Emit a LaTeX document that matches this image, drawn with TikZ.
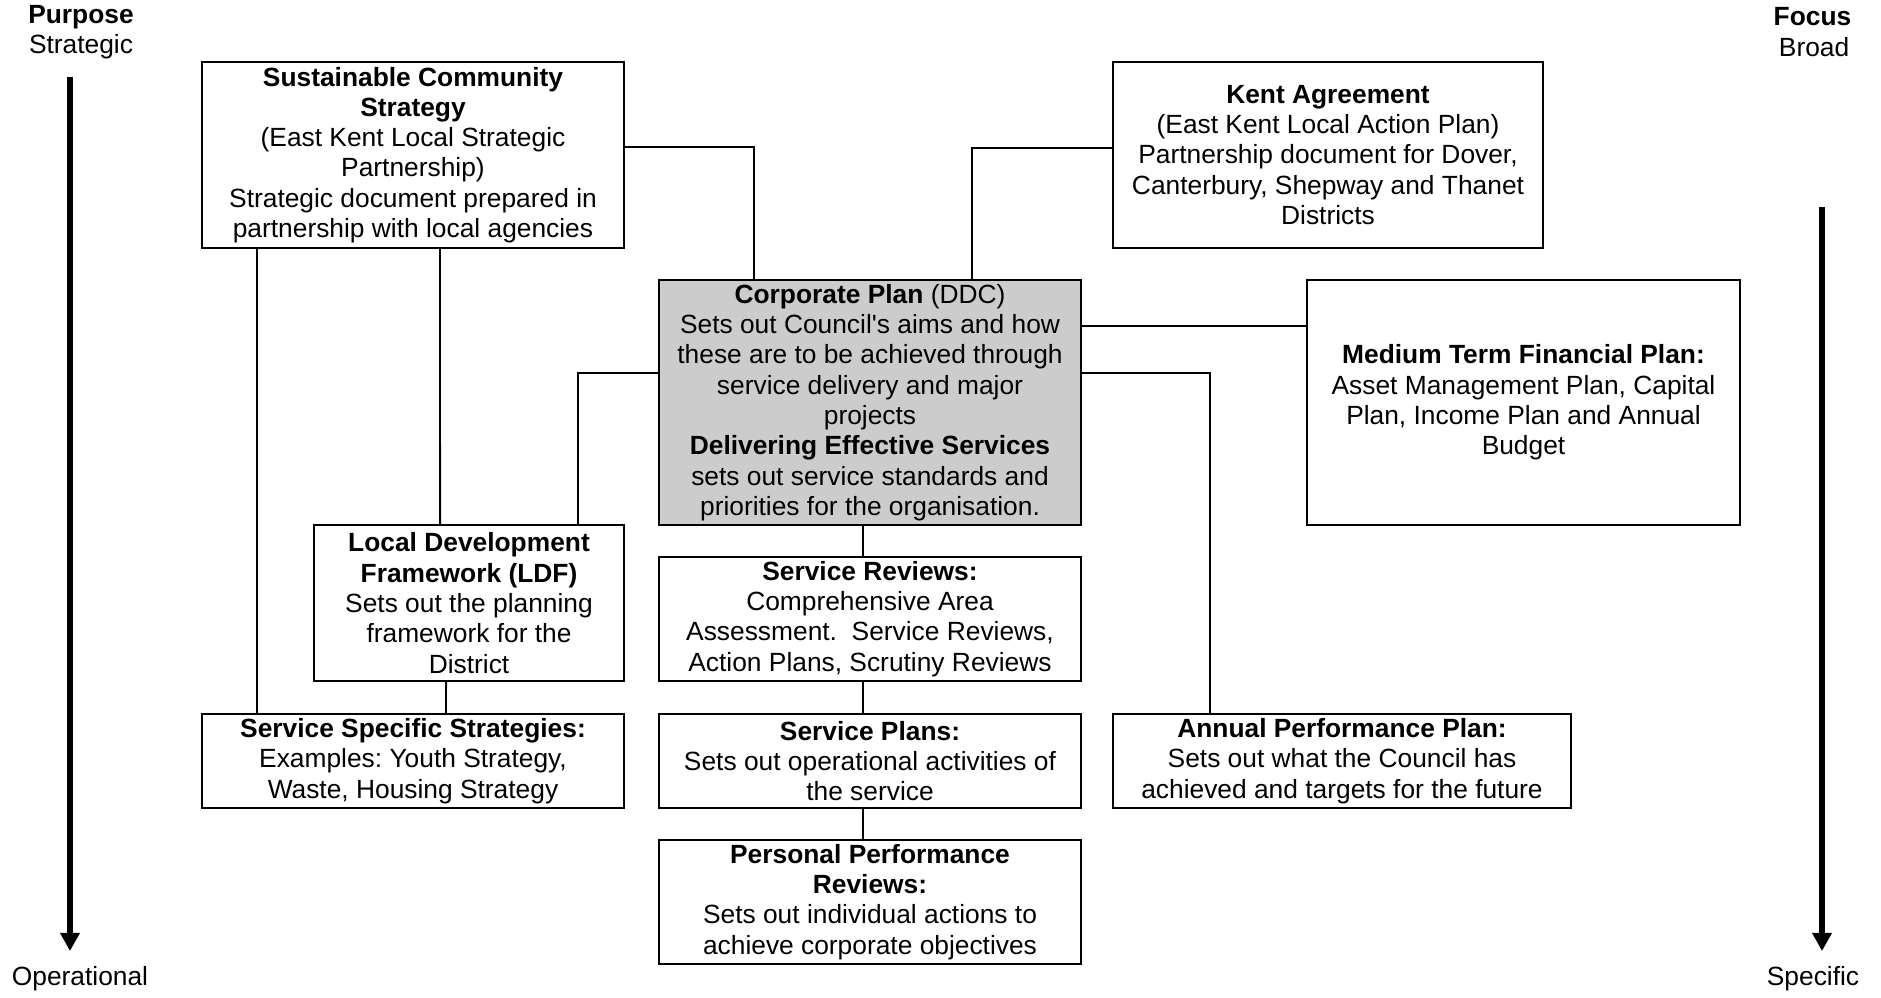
\documentclass[tikz,border=0pt]{standalone}
\usepackage{fontspec}
\setmainfont{Liberation Sans}[Ligatures=TeXOff]
\usetikzlibrary{arrows.meta}
\frenchspacing
\begin{document}
\begin{tikzpicture}[x=0.016cm,y=-0.016cm,line join=miter,
	font=\fontsize{12}{13.8}\selectfont,
	box/.style={draw,line width=0.9pt,inner sep=0pt,align=center,minimum width=6.752cm},
	greybox/.style={box,fill=black!20},
	link/.style={line width=0.9pt},
	axis/.style={line width=2.4pt,-{Triangle[length=0.29cm,width=0.3cm]}}]
		\useasboundingbox (0,0) rectangle (1881,997);
		% headings at the sides
		\node[font=\fontsize{12}{13.8}\selectfont\bfseries] (purp) at (81,17) {Purpose};
		\node (strat) at (81,47) {Strategic};
		\node (oper) at (80,979) {Operational};
		\node[anchor=east,font=\fontsize{12}{13.8}\selectfont\bfseries] (focus) at (1859,17) {Focus};
		\node[anchor=east] (broad) at (1857,47) {Broad};
		\node (spec) at (1813,979) {Specific};
		\coordinate (ltop) at (70,77);
		\coordinate (lbot) at (70,951);
		\coordinate (rtop) at (1822,207);
		\coordinate (rbot) at (1822,951);
		\draw[axis] (ltop)--(lbot);
		\draw[axis] (rtop)--(rbot);
		% boxes
		\node[box,minimum height=2.976cm] (scs) at (413,155) {\textbf{Sustainable Community}\\\textbf{Strategy}\\(East Kent Local Strategic\\Partnership)\\Strategic document prepared in\\partnership with local agencies};
		\node[box,minimum width=6.88cm,minimum height=2.976cm] (kent) at (1328,155) {\textbf{Kent Agreement}\\(East Kent Local Action Plan)\\Partnership document for Dover,\\Canterbury, Shepway and Thanet\\Districts};
		\node[greybox,minimum height=3.92cm] (corp) at (870,402.5) {\textbf{Corporate Plan} (DDC)\\Sets out Council's aims and how\\these are to be achieved through\\service delivery and major\\projects\\\textbf{Delivering Effective Services}\\sets out service standards and\\priorities for the organisation.};
		\node[box,minimum width=6.928cm,minimum height=3.92cm] (mtfp) at (1523.5,402.5) {\textbf{Medium Term Financial Plan:}\\Asset Management Plan, Capital\\Plan, Income Plan and Annual\\Budget};
		\node[box,minimum width=4.96cm,minimum height=2.496cm] (ldf) at (469,603) {\textbf{Local Development}\\\textbf{Framework (LDF)}\\Sets out the planning\\framework for the\\District};
		\node[box,minimum height=1.984cm] (rev) at (870,619) {\textbf{Service Reviews:}\\Comprehensive Area\\Assessment.\ \ Service Reviews,\\Action Plans, Scrutiny Reviews};
		\node[box,minimum height=1.504cm] (sss) at (413,761) {\textbf{Service Specific Strategies:}\\Examples: Youth Strategy,\\Waste, Housing Strategy};
		\node[box,minimum height=1.504cm] (splan) at (870,761) {\textbf{Service Plans:}\\Sets out operational activities of\\the service};
		\node[box,minimum width=7.328cm,minimum height=1.504cm] (app) at (1342,761) {\textbf{Annual Performance Plan:}\\Sets out what the Council has\\achieved and targets for the future};
		\node[box,minimum height=1.984cm] (ppr) at (870,902) {\textbf{Personal Performance}\\\textbf{Reviews:}\\Sets out individual actions to\\achieve corporate objectives};
		% links
		\draw[link] ([yshift=0.128cm]scs.east) -| ([xshift=-1.856cm]corp.north);
		\draw[link] ([yshift=0.112cm]kent.west) -| ([xshift=1.632cm]corp.north);
		\draw[link] ([yshift=1.232cm]corp.east) -- ([yshift=1.232cm]mtfp.west);
		\draw[link] ([yshift=0.472cm]corp.west) -| ([xshift=1.744cm]ldf.north);
		\draw[link] ([yshift=0.472cm]corp.east) -| ([xshift=-2.112cm]app.north);
		\draw[link] ([xshift=-2.496cm]scs.south) -- ([xshift=-2.496cm]sss.north);
		\draw[link] ([xshift=0.432cm]scs.south) -- ([xshift=-0.464cm]ldf.north);
		\draw[link] ([xshift=-0.368cm]ldf.south) -- ([xshift=0.528cm]sss.north);
		\draw[link] ([xshift=-0.112cm]corp.south) -- ([xshift=-0.112cm]rev.north);
		\draw[link] ([xshift=-0.112cm]rev.south) -- ([xshift=-0.112cm]splan.north);
		\draw[link] ([xshift=-0.112cm]splan.south) -- ([xshift=-0.112cm]ppr.north);
\end{tikzpicture}
\end{document}
